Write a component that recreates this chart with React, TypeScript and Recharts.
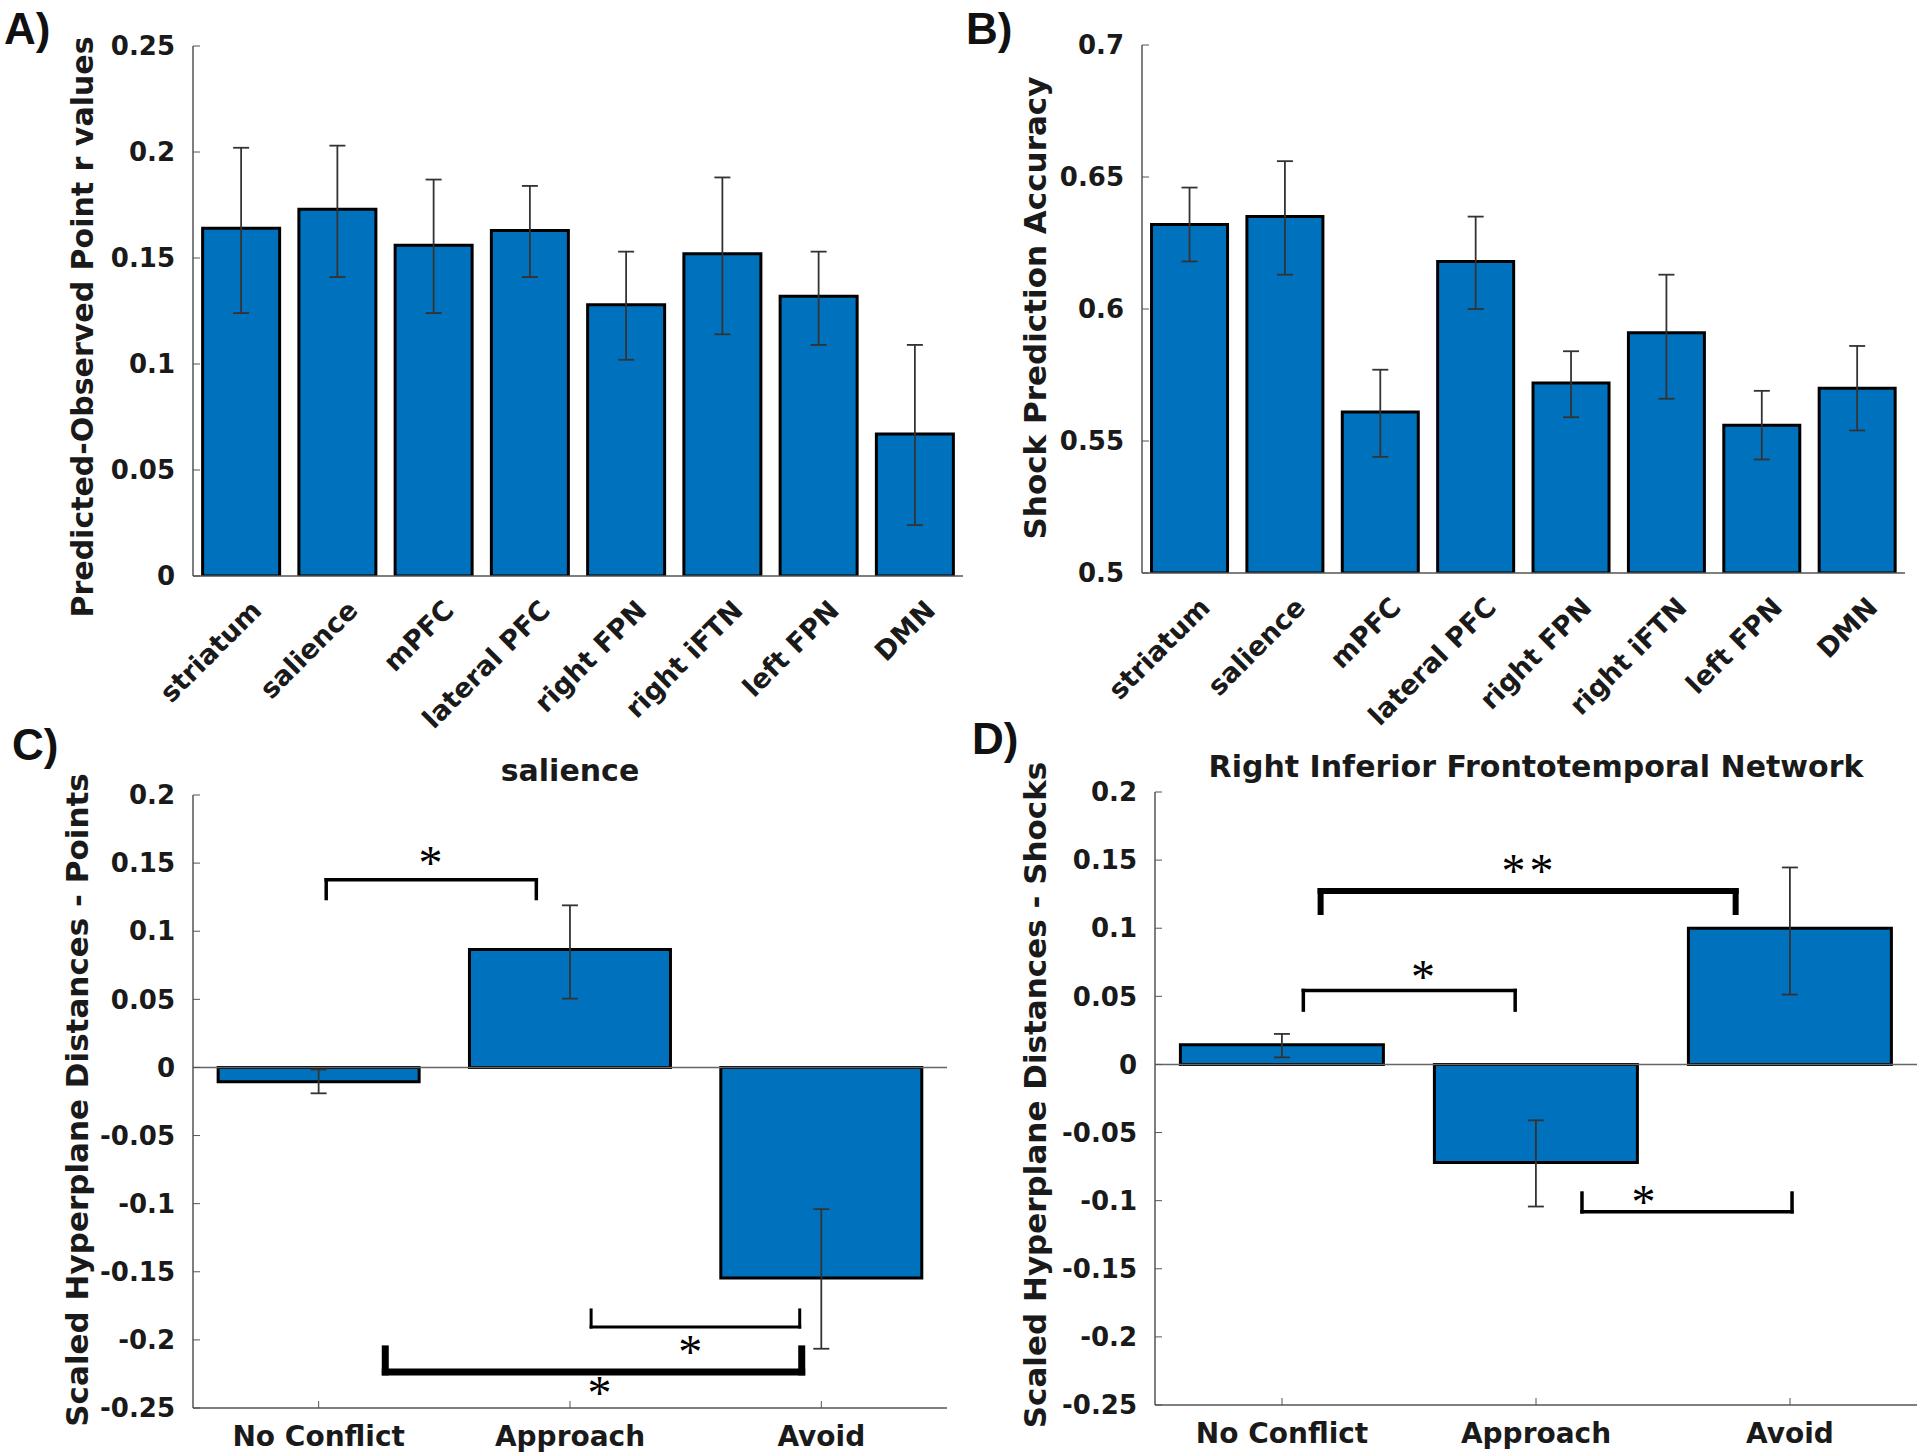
import React from 'react';
import { BarChart, Bar, XAxis, YAxis, ErrorBar, ReferenceLine, ReferenceDot } from 'recharts';

const FONT = '"DejaVu Sans", sans-serif';
const BLUE = '#0072BD';
const AXIS = '#555';
const INK = '#1a1a1a';

// A / B: network regions
const regions = ['striatum', 'salience', 'mPFC', 'lateral PFC', 'right FPN', 'right iFTN', 'left FPN', 'DMN'];
const pointR = [0.164, 0.173, 0.156, 0.163, 0.128, 0.152, 0.132, 0.067];
const pointRLow = [0.124, 0.141, 0.124, 0.141, 0.102, 0.114, 0.109, 0.024];
const pointRHigh = [0.202, 0.203, 0.187, 0.184, 0.153, 0.188, 0.153, 0.109];
const pointTicks = [0, 0.05, 0.1, 0.15, 0.2, 0.25];

const shockAcc = [0.632, 0.635, 0.561, 0.618, 0.572, 0.591, 0.556, 0.570];
const shockAccLow = [0.618, 0.613, 0.544, 0.600, 0.559, 0.566, 0.543, 0.554];
const shockAccHigh = [0.646, 0.656, 0.577, 0.635, 0.584, 0.613, 0.569, 0.586];
const shockTicks = [0.5, 0.55, 0.6, 0.65, 0.7];

// C / D: conditions
const conditions = ['No Conflict', 'Approach', 'Avoid'];
const salienceDist = [-0.0105, 0.0865, -0.1545];
const salienceLow = [-0.019, 0.0505, -0.2065];
const salienceHigh = [-0.0015, 0.119, -0.104];

const riftnDist = [0.0145, -0.072, 0.0999];
const riftnLow = [0.0052, -0.1043, 0.0513];
const riftnHigh = [0.0224, -0.041, 0.1446];

const distTicks = [-0.25, -0.2, -0.15, -0.1, -0.05, 0, 0.05, 0.1, 0.15, 0.2];

// significance brackets, x in condition index units
const salienceBrackets = [
  { from: 0.03, to: 0.866, y: 0.1378, tip: 0.124, w: 3.5, mark: '*', markX: 0.445, markY: 0.155 },
  { from: 1.084, to: 1.914, y: -0.1906, tip: -0.178, w: 3, mark: '*', markX: 1.478, markY: -0.2038 },
  { from: 0.265, to: 1.922, y: -0.2235, tip: -0.2066, w: 7, mark: '*', markX: 1.117, markY: -0.2336 },
];
const riftnBrackets = [
  { from: 0.152, to: 1.786, y: 0.1273, tip: 0.1119, w: 6, mark: '**', markX: 0.974, markY: 0.147 },
  { from: 0.084, to: 0.918, y: 0.0543, tip: 0.0399, w: 3.5, mark: '*', markX: 0.555, markY: 0.0691 },
  { from: 1.181, to: 2.008, y: -0.1082, tip: -0.0944, w: 3.5, mark: '*', markX: 1.423, markY: -0.0961 },
];

const toRows = (names: string[], vals: number[], lo: number[], hi: number[]) =>
  names.map((name, i) => ({ name, idx: i, value: vals[i], err: [vals[i] - lo[i], hi[i] - vals[i]] }));

const SlantTick = ({ x, y, payload }: any) => (
  <text
    x={0}
    y={0}
    transform={`translate(${x + 22},${y + 36}) rotate(-45)`}
    textAnchor="end"
    fontSize={27}
    fontWeight="bold"
    fontFamily={FONT}
    fill={INK}
  >
    {payload.value}
  </text>
);

const yTickStyle = { fill: INK, fontSize: 26, fontWeight: 'bold', fontFamily: FONT };

function bracketLines(list: typeof salienceBrackets) {
  const out: React.ReactNode[] = [];
  list.forEach((b, i) => {
    const segs = [
      [{ x: b.from, y: b.tip }, { x: b.from, y: b.y }],
      [{ x: b.from, y: b.y }, { x: b.to, y: b.y }],
      [{ x: b.to, y: b.y }, { x: b.to, y: b.tip }],
    ];
    segs.forEach((s, j) =>
      out.push(
        <ReferenceLine
          key={`b${i}-${j}`}
          xAxisId="n"
          segment={s}
          stroke="#000"
          strokeWidth={b.w}
          strokeLinecap="square"
          ifOverflow="visible"
        />
      )
    );
    out.push(
      <ReferenceDot
        key={`m${i}`}
        xAxisId="n"
        x={b.markX}
        y={b.markY}
        r={0}
        ifOverflow="visible"
        shape={(p: any) => (
          <text
            x={p.cx}
            y={p.cy + 23}
            textAnchor="middle"
            fontSize={48}
            letterSpacing={b.mark.length > 1 ? 4 : 0}
            fontFamily='"Liberation Serif", serif'
            fill="#000"
          >
            {b.mark}
          </text>
        )}
      />
    );
  });
  return out;
}

function RegionPanel({ rows, domain, ticks, width, margin }: any) {
  return (
    <BarChart width={width} height={740} data={rows} margin={margin} barCategoryGap="10%">
      <XAxis
        dataKey="name"
        interval={0}
        height={150}
        tick={<SlantTick />}
        tickLine={false}
        tickSize={0}
        tickMargin={0}
        axisLine={{ stroke: AXIS, strokeWidth: 1.5 }}
      />
      <YAxis
        domain={domain}
        ticks={ticks}
        interval={0}
        width={150}
        tick={yTickStyle}
        tickSize={-7}
        tickMargin={25}
        tickLine={{ stroke: AXIS }}
        axisLine={{ stroke: AXIS, strokeWidth: 1.5 }}
        allowDataOverflow
      />
      <Bar dataKey="value" fill={BLUE} stroke="#000" strokeWidth={3} isAnimationActive={false}>
        <ErrorBar dataKey="err" width={8} stroke="#333" strokeWidth={1.8} direction="y" />
      </Bar>
    </BarChart>
  );
}

function ConditionPanel({ rows, brackets, width, margin }: any) {
  return (
    <BarChart width={width} height={756} data={rows} margin={margin} barCategoryGap="10%">
      <XAxis
        dataKey="name"
        interval={0}
        height={40}
        tick={{ fill: INK, fontSize: 28, fontWeight: 'bold', fontFamily: FONT }}
        tickSize={-7}
        tickMargin={25}
        tickLine={{ stroke: AXIS }}
        axisLine={{ stroke: AXIS, strokeWidth: 1.5 }}
      />
      <XAxis xAxisId="n" dataKey="idx" type="number" domain={[-0.5, 2.5]} hide allowDataOverflow />
      <YAxis
        domain={[-0.25, 0.2]}
        ticks={distTicks}
        interval={0}
        width={150}
        tick={yTickStyle}
        tickSize={-7}
        tickMargin={25}
        tickLine={{ stroke: AXIS }}
        axisLine={{ stroke: AXIS, strokeWidth: 1.5 }}
        allowDataOverflow
      />
      <ReferenceLine y={0} stroke="#666" strokeWidth={1.5} />
      <Bar dataKey="value" fill={BLUE} stroke="#000" strokeWidth={3} isAnimationActive={false}>
        <ErrorBar dataKey="err" width={8} stroke="#333" strokeWidth={1.8} direction="y" />
      </Bar>
      {bracketLines(brackets)}
    </BarChart>
  );
}

const letterStyle = {
  fontFamily: '"Liberation Sans Narrow", "Liberation Sans", sans-serif',
  fontWeight: 700,
  fontSize: 44,
  fill: '#111',
};
const labelStyle = { fontFamily: FONT, fontWeight: 'bold', fill: INK } as const;

export default function App() {
  const aRows = toRows(regions, pointR, pointRLow, pointRHigh);
  const bRows = toRows(regions, shockAcc, shockAccLow, shockAccHigh);
  const cRows = toRows(conditions, salienceDist, salienceLow, salienceHigh);
  const dRows = toRows(conditions, riftnDist, riftnLow, riftnHigh);

  return (
    <div style={{ position: 'absolute', left: 0, top: 0, width: 1920, height: 1456, background: '#fff', overflow: 'hidden' }}>
      <div style={{ position: 'absolute', left: 0, top: 0 }}>
        <RegionPanel rows={aRows} domain={[0, 0.25]} ticks={pointTicks} width={990} margin={{ top: 46, right: 27, left: 43, bottom: 14 }} />
      </div>
      <div style={{ position: 'absolute', left: 990, top: 0 }}>
        <RegionPanel rows={bRows} domain={[0.5, 0.7]} ticks={shockTicks} width={930} margin={{ top: 45, right: 15, left: 2, bottom: 17 }} />
      </div>
      <div style={{ position: 'absolute', left: 0, top: 700 }}>
        <ConditionPanel rows={cRows} brackets={salienceBrackets} width={970} margin={{ top: 95, right: 23, left: 43, bottom: 8 }} />
      </div>
      <div style={{ position: 'absolute', left: 990, top: 700 }}>
        <ConditionPanel rows={dRows} brackets={riftnBrackets} width={930} margin={{ top: 92, right: 3, left: 15, bottom: 11 }} />
      </div>
      <svg width={1920} height={1456} style={{ position: 'absolute', left: 0, top: 0, pointerEvents: 'none' }}>
        <text x={4} y={44} {...letterStyle}>A)</text>
        <text x={966} y={44} {...letterStyle}>B)</text>
        <text x={12} y={760} {...letterStyle}>C)</text>
        <text x={972} y={754} {...letterStyle}>D)</text>

        <text transform="translate(82,327) rotate(-90)" textAnchor="middle" dy="0.35em" fontSize={30} {...labelStyle}>
          Predicted-Observed Point r values
        </text>
        <text transform="translate(1035,308) rotate(-90)" textAnchor="middle" dy="0.35em" fontSize={31} {...labelStyle}>
          Shock Prediction Accuracy
        </text>
        <text transform="translate(77,1100) rotate(-90)" textAnchor="middle" dy="0.35em" fontSize={31} {...labelStyle}>
          Scaled Hyperplane Distances - Points
        </text>
        <text transform="translate(1035,1095) rotate(-90)" textAnchor="middle" dy="0.35em" fontSize={31} {...labelStyle}>
          Scaled Hyperplane Distances - Shocks
        </text>

        <text x={570} y={781} textAnchor="middle" fontSize={30} {...labelStyle}>salience</text>
        <text x={1536} y={777} textAnchor="middle" fontSize={30} {...labelStyle}>Right Inferior Frontotemporal Network</text>
      </svg>
    </div>
  );
}
